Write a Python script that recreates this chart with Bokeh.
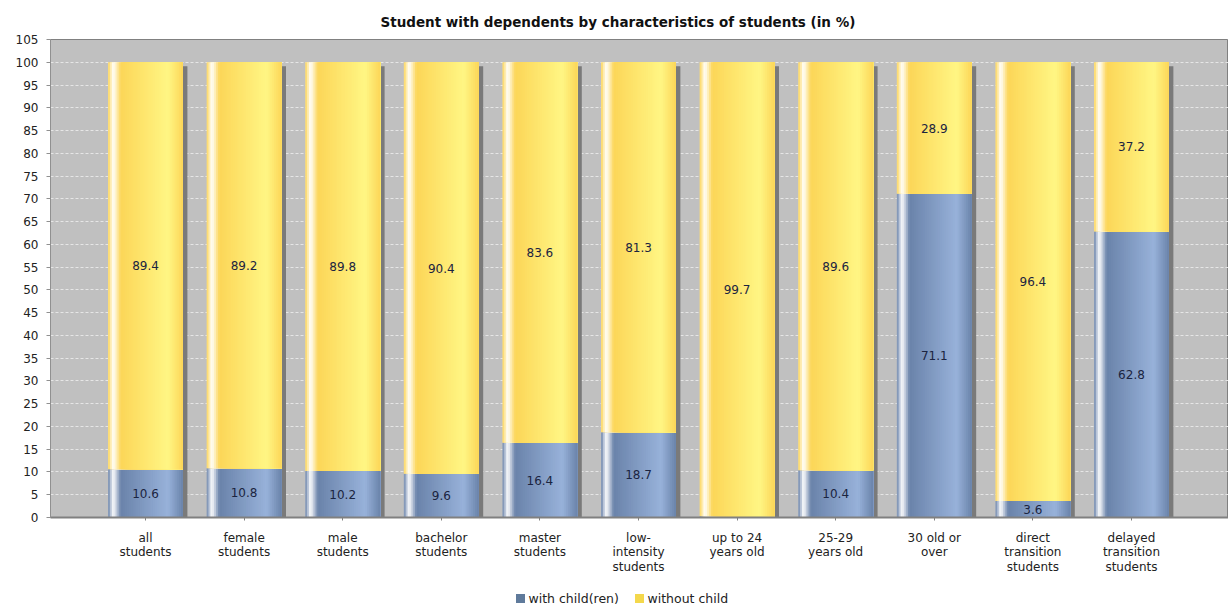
from bokeh.plotting import figure
from bokeh.layouts import column
from bokeh.models import Range1d, FixedTicker, Title, ColumnDataSource
from bokeh.core.properties import value
from bokeh.embed import file_html
from bokeh.resources import INLINE

categories = ["all\nstudents", "female\nstudents", "male\nstudents", "bachelor\nstudents",
              "master\nstudents", "low-\nintensity\nstudents", "up to 24\nyears old",
              "25-29\nyears old", "30 old or\nover", "direct\ntransition\nstudents",
              "delayed\ntransition\nstudents"]
with_child = [10.6, 10.8, 10.2, 9.6, 16.4, 18.7, 0.3, 10.4, 71.1, 3.6, 62.8]
without_child = [89.4, 89.2, 89.8, 90.4, 83.6, 81.3, 99.7, 89.6, 28.9, 96.4, 37.2]
series_names = ["with child(ren)", "without child"]
y_ticks = list(range(0, 106, 5))

FONT = "DejaVu Sans"
BAR_W = 0.76
N_STRIPS = 40

W = 1228
H_MAIN, H_LEG = 582, 24
BORDER_L, BORDER_T, BORDER_B = 50, 39, 65

p = figure(width=W, height=H_MAIN, output_backend="svg", toolbar_location=None,
           x_range=Range1d(-0.9635, 10.984), y_range=Range1d(0, 105),
           min_border_left=BORDER_L, min_border_right=0, min_border_top=BORDER_T,
           min_border_bottom=BORDER_B)
p.add_layout(Title(text="Student with dependents by characteristics of students (in %)",
                   align="left", offset=330, text_font=FONT, text_font_size="13.5px",
                   text_font_style="bold", text_color="#111111", standoff=19), "above")

p.background_fill_color = "#C0C0C0"
p.border_fill_color = "white"
p.outline_line_color = "#808080"
p.outline_line_width = 1

p.xgrid.visible = False
p.ygrid.ticker = FixedTicker(ticks=y_ticks)
p.ygrid.grid_line_color = "#E6E6E6"
p.ygrid.grid_line_dash = "3 2"
p.ygrid.grid_line_width = 1

# y axis
p.yaxis.ticker = FixedTicker(ticks=y_ticks)
p.yaxis.major_label_text_font = FONT
p.yaxis.major_label_text_font_size = "12px"
p.yaxis.major_label_text_color = "#222222"
p.yaxis.axis_line_color = "#909090"
p.yaxis.major_tick_line_color = "#909090"
p.yaxis.major_tick_out = 4
p.yaxis.major_tick_in = 0
p.yaxis.minor_tick_line_color = None
p.yaxis.major_label_standoff = 8

# x axis with multi-line category labels
idx = list(range(len(categories)))
p.xaxis.ticker = FixedTicker(ticks=idx)
p.xaxis.major_label_overrides = {i: c for i, c in enumerate(categories)}
p.xaxis.major_label_text_font = FONT
p.xaxis.major_label_text_font_size = "12px"
p.xaxis.major_label_text_color = "#222222"
p.xaxis.major_label_text_line_height = 1.05
p.xaxis.axis_line_color = "#808080"
p.xaxis.axis_line_width = 2
p.xaxis.major_tick_line_color = "#808080"
p.xaxis.major_tick_out = 3
p.xaxis.major_tick_in = 0
p.xaxis.minor_tick_line_color = None
p.xaxis.major_label_standoff = 10


def hexc(c):
    return "#%02x%02x%02x" % tuple(int(round(v)) for v in c)


def lerp(a, b, t):
    return tuple(a[j] + (b[j] - a[j]) * t for j in range(3))


def grad_color(c0, c1, t):
    white = (255, 255, 255)
    if t < 0.07:
        return lerp(c0, white, t / 0.07)
    if t < 0.17:
        return lerp(white, c0, (t - 0.07) / 0.10)
    if t < 0.8:
        return lerp(c0, c1, (t - 0.17) / 0.63)
    return lerp(c1, c0, (t - 0.8) / 0.2)


# shadows
totals = [a + b for a, b in zip(with_child, without_child)]
p.vbar(x=[i + 0.045 for i in idx], bottom=0, top=[t - 0.9 for t in totals], width=BAR_W,
       fill_color="#7A7A7A", line_color=None)


def strips(bottoms, tops, c0, c1):
    # each strip runs from its left edge to the bar's right edge; later strips cover the rest
    ls, rs, bs, ts, cs = [], [], [], [], []
    sw = BAR_W / N_STRIPS
    for i, (b, t) in enumerate(zip(bottoms, tops)):
        for k in range(N_STRIPS):
            frac = (k + 0.5) / N_STRIPS
            ls.append(i - BAR_W / 2 + k * sw)
            rs.append(i + BAR_W / 2)
            bs.append(b)
            ts.append(t)
            cs.append(hexc(grad_color(c0, c1, frac)))
    src = ColumnDataSource(dict(left=ls, right=rs, bottom=bs, top=ts, color=cs))
    p.quad(left="left", right="right", bottom="bottom", top="top", fill_color="color",
           line_color=None, source=src)


BLUE0, BLUE1 = (106, 131, 170), (152, 178, 218)
YEL0, YEL1 = (252, 214, 88), (255, 246, 132)

strips([0] * len(idx), with_child, BLUE0, BLUE1)
strips(with_child, totals, YEL0, YEL1)

# value labels
lx, ly, lt = [], [], []
for i, (a, b) in enumerate(zip(with_child, without_child)):
    if a >= 1:
        lx.append(i); ly.append(a / 2); lt.append(f"{a:.1f}")
    if b >= 1:
        lx.append(i); ly.append(a + b / 2); lt.append(f"{b:.1f}")
p.text(x=lx, y=ly, text=lt, text_align="center", text_baseline="middle",
       text_font=value(FONT), text_font_size="12px", text_color="#1B2440")

# legend strip (separate figure; its frame is aligned with the main frame, range = page px)
leg = figure(width=W, height=H_LEG, output_backend="svg", toolbar_location=None,
             x_range=Range1d(BORDER_L, W), y_range=Range1d(0, H_LEG),
             min_border=0, outline_line_color=None)
leg.axis.visible = False
leg.grid.visible = False
leg.background_fill_color = "white"
leg.border_fill_color = "white"
leg_colors = ["#5F7A9B", "#F4D84C"]
leg_sq_x = [520, 639]
leg_tx_x = [528, 647]
leg_y = 8
leg.rect(x=leg_sq_x, y=[leg_y] * 2, width=9, height=9, width_units="screen",
         height_units="screen", fill_color=leg_colors, line_color=None)
leg.text(x=leg_tx_x, y=[leg_y] * 2, text=series_names, text_align="left",
         text_baseline="middle", text_font=value(FONT), text_font_size="12.5px",
         text_color="#222222")

layout = column(p, leg, spacing=0)
open("out.html", "w").write(file_html(layout, INLINE))
